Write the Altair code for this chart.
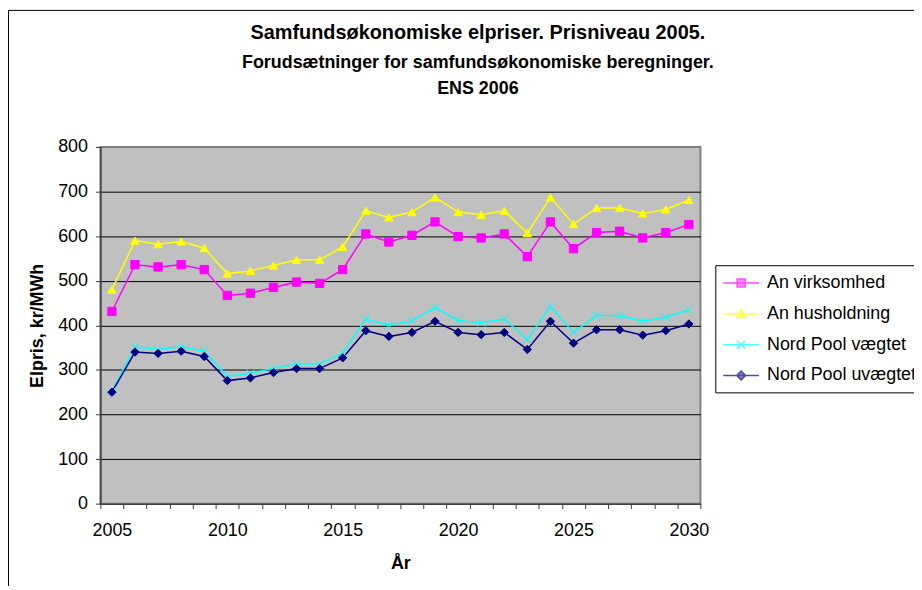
import altair as alt
import pandas as pd

years = list(range(2005, 2031))
series_names = ["An virksomhed", "An husholdning", "Nord Pool vægtet", "Nord Pool uvægtet"]
an_virksomhed = [431, 536, 531, 536, 525, 467, 472, 485, 497, 494, 525, 605, 587, 602,
                 632, 599, 596, 605, 554, 632, 572, 608, 611, 596, 608, 626]
an_husholdning = [480, 590, 582, 588, 573, 516, 522, 534, 547, 547, 576, 657, 642, 654,
                  687, 654, 648, 657, 607, 687, 627, 663, 663, 651, 660, 681]
np_vaegtet = [252, 352, 346, 352, 342, 286, 292, 304, 313, 313, 338, 414, 400, 410,
              440, 411, 406, 414, 368, 443, 384, 422, 422, 409, 418, 435]
np_uvaegtet = [250, 340, 337, 342, 330, 276, 282, 294, 303, 303, 327, 388, 375, 384,
               409, 384, 379, 384, 346, 409, 360, 390, 390, 378, 388, 403]
colors = ["#FF00FF", "#FFFF00", "#00FFFF", "#000080"]
y_ticks = [0, 100, 200, 300, 400, 500, 600, 700, 800]
x_label_years = [2005, 2010, 2015, 2020, 2025, 2030]

rows = []
for name, vals in zip(series_names, [an_virksomhed, an_husholdning, np_vaegtet, np_uvaegtet]):
    for yr, v in zip(years, vals):
        rows.append({"year": yr, "value": v, "series": name})
df = pd.DataFrame(rows)

font = "Liberation Sans"
x_values = sorted([y - 0.5 for y in years] + [years[-1] + 0.5] + x_label_years)

x_enc = alt.X(
    "year:Q",
    scale=alt.Scale(domain=[2004.5, 2030.5], nice=False, zero=False),
    axis=alt.Axis(
        values=x_values,
        labelExpr="datum.value % 5 == 0 ? format(datum.value, 'd') : ''",
        tickOpacity={"condition": {"test": "datum.value % 1 == 0", "value": 0}, "value": 1},
        grid=False, tickSize=5, labelPadding=13, labelOverlap=False, labelFlush=False,
        labelBound=False, labelFontSize=18, labelFont=font, labelColor="black",
        domainColor="#404040", tickColor="#404040", domainWidth=1.5,
        title="År", titleFontSize=18, titleFont=font, titleFontWeight="bold",
        titleColor="black", titleBaseline="alphabetic", titleY=65,
    ),
)
y_enc = alt.Y(
    "value:Q",
    scale=alt.Scale(domain=[0, 800], nice=False),
    axis=alt.Axis(
        values=y_ticks, tickSize=5, labelPadding=8, labelFontSize=18, labelFont=font,
        labelColor="black", domainColor="#404040", tickColor="#404040", domainWidth=1.5,
        gridColor="black", gridWidth=1,
        gridOpacity={"condition": {"test": "datum.value == 800 || datum.value == 0", "value": 0}, "value": 1},
        title="Elpris, kr/MWh", titleFontSize=18, titleFont=font, titleFontWeight="bold",
        titleColor="black", titleX=-54, titleY=179.5,
    ),
)

base = alt.Chart(df).encode(x=x_enc, y=y_enc)

lines = base.mark_line(strokeWidth=1.5).encode(
    color=alt.Color("series:N", scale=alt.Scale(domain=series_names, range=colors), legend=None),
)

x_path = "M-1,-1L1,1M-1,1L1,-1"
points = base.mark_point(filled=True, size=70, strokeWidth=1, opacity=1).encode(
    shape=alt.Shape("series:N", scale=alt.Scale(domain=series_names,
                    range=["square", "triangle-up", x_path, "diamond"]), legend=None),
    fill=alt.Fill("series:N", scale=alt.Scale(domain=series_names, range=colors), legend=None),
    stroke=alt.Stroke("series:N", scale=alt.Scale(domain=series_names, range=colors), legend=None),
)

legend_paths = [
    "M-2,0H2M-0.45,-0.45H0.45V0.45H-0.45Z",
    "M-2,0H2M0,-0.5L0.5,0.4H-0.5Z",
    "M-2,0H2M-0.45,-0.45L0.45,0.45M-0.45,0.45L0.45,-0.45",
    "M-2,0H2M0,-0.5L0.5,0L0,0.5L-0.5,0Z",
]
leg = alt.Legend(
    title=None, orient="none", legendX=619, legendY=119, direction="vertical",
    fillColor="white", strokeColor="black", padding=8, symbolOffset=8,
    symbolSize=324, symbolStrokeWidth=1.5, labelFontSize=18, labelFont=font,
    labelColor="black", labelOffset=16, rowPadding=12, labelLimit=400,
)
legend_layer = base.mark_point(filled=True, strokeWidth=1.5).encode(
    shape=alt.Shape("series:N", scale=alt.Scale(domain=series_names, range=legend_paths), legend=leg),
    fill=alt.Fill("series:N", scale=alt.Scale(domain=series_names, range=colors), legend=leg),
    stroke=alt.Stroke("series:N", scale=alt.Scale(domain=series_names, range=colors), legend=leg),
).transform_filter("datum.year < 0")

frame_df = pd.DataFrame({"k": [0]})
frame_left = alt.Chart(frame_df).mark_rule(color="black", strokeWidth=1).encode(
    x=alt.value(-92.5), y=alt.value(-137.5), y2=alt.value(442))
frame_top = alt.Chart(frame_df).mark_rule(color="black", strokeWidth=1).encode(
    x=alt.value(-92.5), x2=alt.value(819), y=alt.value(-137.5))

chart = alt.layer(lines, points, legend_layer, frame_left, frame_top).resolve_scale(
    shape="independent", fill="independent", stroke="independent", color="independent"
).properties(
    width=604, height=359,
    autosize=alt.AutoSizeParams(type="none"),
    padding={"left": 93, "top": 138, "right": 215, "bottom": 83},
    title=alt.TitleParams(
        text="Samfundsøkonomiske elpriser.  Prisniveau 2005.",
        subtitle=["Forudsætninger for samfundsøkonomiske beregninger.", "ENS 2006"],
        font=font, fontSize=20, fontWeight="bold", color="black",
        subtitleFont=font, subtitleFontSize=18, subtitleFontWeight="bold", subtitleColor="black",
        subtitlePadding=11, subtitleLineHeight=27, anchor="middle", dx=78, dy=89, offset=0,
    ),
).configure_view(fill="#C0C0C0", stroke="#808080", strokeWidth=2)

chart.save("out.html", embed_options={"renderer": "svg", "actions": False})
